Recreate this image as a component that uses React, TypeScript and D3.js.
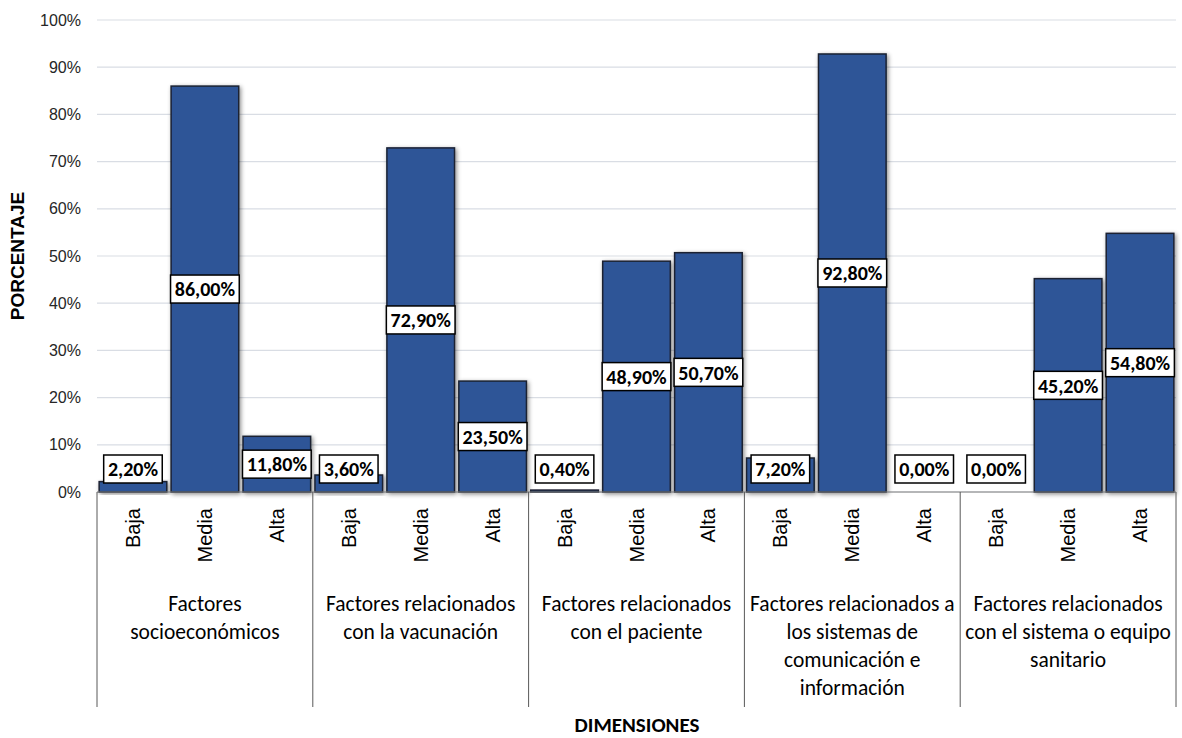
import React, { useEffect, useRef } from "react";
import * as d3 from "d3";

const groups = [
  ["Factores", "socioeconómicos"],
  ["Factores relacionados", "con la vacunación"],
  ["Factores relacionados", "con el paciente"],
  ["Factores relacionados a", "los sistemas de", "comunicación e", "información"],
  ["Factores relacionados", "con el sistema o equipo", "sanitario"],
];
const levels = ["Baja", "Media", "Alta"];
const values = [
  [2.2, 86.0, 11.8],
  [3.6, 72.9, 23.5],
  [0.4, 48.9, 50.7],
  [7.2, 92.8, 0.0],
  [0.0, 45.2, 54.8],
];
const yTicks = [0, 10, 20, 30, 40, 50, 60, 70, 80, 90, 100];

const W = 1182, H = 738;
const L = 97, R = 1176, T = 20, B = 492;

export default function App() {
  const ref = useRef<SVGSVGElement>(null);
  useEffect(() => {
    const svg = d3.select(ref.current);
    svg.selectAll("*").remove();
    const defs = svg.append("defs");
    const f = defs.append("filter").attr("id", "sh").attr("x", "-20%").attr("y", "-20%").attr("width", "140%").attr("height", "140%");
    f.append("feDropShadow").attr("dx", 1.5).attr("dy", 1.5).attr("stdDeviation", 2).attr("flood-color", "#000").attr("flood-opacity", 0.45);

    const items = values.flatMap((vs, gi) => vs.map((v, li) => ({ key: `${gi}-${li}`, gi, li, v })));
    const x = d3.scaleBand<string>().domain(items.map(d => d.key)).range([L, R]).paddingInner(0.06).paddingOuter(0.03);
    const y = d3.scaleLinear().domain([0, 100]).range([B, T]);

    // gridlines
    svg.append("g").selectAll("line").data(yTicks).join("line")
      .attr("x1", L).attr("x2", R).attr("y1", d => y(d)).attr("y2", d => y(d))
      .attr("stroke", "#d9dde4").attr("stroke-width", 1.2);
    svg.append("g").selectAll("text").data(yTicks).join("text")
      .attr("x", 81).attr("y", d => y(d)).attr("dy", "0.35em").attr("text-anchor", "end")
      .attr("font-family", "Liberation Sans, Arial, sans-serif").attr("font-size", 16).attr("fill", "#262626")
      .text(d => `${d}%`);

    // bars
    svg.append("g").selectAll("rect").data(items).join("rect")
      .attr("x", d => x(d.key)!).attr("width", x.bandwidth())
      .attr("y", d => y(d.v)).attr("height", d => B - y(d.v))
      .attr("fill", "#2F5597").attr("stroke", "#1b2233").attr("stroke-width", d => d.v > 0 ? 1.5 : 0)
      .attr("filter", "url(#sh)");

    // axis line
    svg.append("line").attr("x1", L).attr("x2", R).attr("y1", B).attr("y2", B).attr("stroke", "#7f7f7f").attr("stroke-width", 1);

    // group separators
    const bounds = d3.range(groups.length + 1).map(i => L + i * 3 * ((R - L) / 15));
    svg.append("g").selectAll("line").data(bounds).join("line")
      .attr("x1", d => d).attr("x2", d => d).attr("y1", B).attr("y2", 707)
      .attr("stroke", "#595959").attr("stroke-width", 1);

    // level labels
    svg.append("g").selectAll("text").data(items).join("text")
      .attr("transform", d => `translate(${x(d.key)! + x.bandwidth() / 2},508) rotate(-90)`)
      .attr("text-anchor", "end").attr("dy", "0.35em")
      .attr("font-family", "Liberation Sans, Arial, sans-serif").attr("font-size", 20).attr("fill", "#000")
      .text(d => levels[d.li]);

    // group labels
    const gg = svg.append("g").selectAll("text").data(groups).join("text")
      .attr("x", (d, i) => (bounds[i] + bounds[i + 1]) / 2).attr("y", 611)
      .attr("text-anchor", "middle").attr("font-family", "Carlito, Lato, sans-serif").attr("font-size", 21.5).attr("fill", "#000");
    gg.selectAll("tspan").data(d => d).join("tspan")
      .attr("x", function () { return (this.parentNode as SVGTextElement).getAttribute("x"); })
      .attr("dy", (d, i) => i === 0 ? 0 : 28).text(d => d);

    // data labels
    const lg = svg.append("g");
    items.forEach(d => {
      const cx = x(d.key)! + x.bandwidth() / 2;
      const cy = Math.min((y(d.v) + B) / 2, B - 23);
      const g = lg.append("g");
      const t = g.append("text").attr("x", cx).attr("y", cy).attr("dy", "0.36em").attr("text-anchor", "middle")
        .attr("font-family", "Carlito, Lato, sans-serif").attr("font-weight", "bold").attr("font-size", 20).attr("fill", "#000")
        .text(d.v.toFixed(2).replace(".", ",") + "%");
      const bb = (t.node() as SVGTextElement).getBBox();
      g.insert("rect", "text").attr("x", cx - bb.width / 2 - 4).attr("y", cy - 14).attr("width", bb.width + 8).attr("height", 28)
        .attr("fill", "#fff").attr("stroke", "#000").attr("stroke-width", 1.5);
    });

    // axis titles
    svg.append("text").attr("transform", `translate(24,${(T + B) / 2}) rotate(-90)`).attr("text-anchor", "middle")
      .attr("font-family", "Liberation Sans, Arial, sans-serif").attr("font-weight", "bold").attr("font-size", 19).text("PORCENTAJE");
    svg.append("text").attr("x", 637).attr("y", 732).attr("text-anchor", "middle")
      .attr("font-family", "Carlito, Lato, sans-serif").attr("font-weight", "bold").attr("font-size", 21).text("DIMENSIONES");
  }, []);
  return (
    <svg ref={ref} width={W} height={H} style={{ position: "absolute", left: 0, top: 0, background: "#fff" }} />
  );
}
